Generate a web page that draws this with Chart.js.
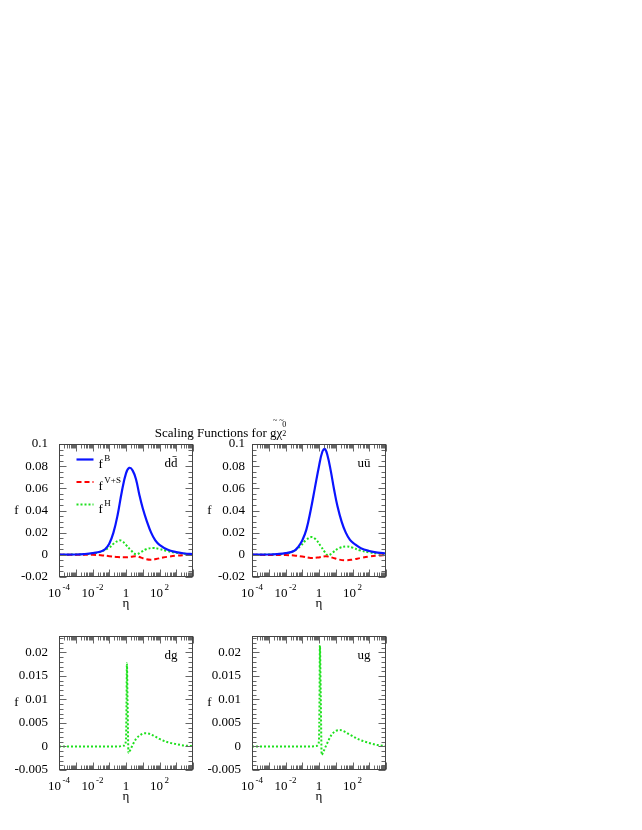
<!DOCTYPE html>
<html>
<head>
<meta charset="utf-8">
<style>
  html, body { margin: 0; padding: 0; background: #fff; }
  #wrap { position: relative; width: 642px; height: 830px; }
  #wrap canvas { position: absolute; left: 0; top: 0; }
</style>
<script src="https://cdn.jsdelivr.net/npm/chart.js@4.4.1/dist/chart.umd.min.js"></script>
</head>
<body>
<div id="wrap">
  <canvas id="pDD" width="642" height="830"></canvas>
  <canvas id="pUU" width="642" height="830"></canvas>
  <canvas id="pDG" width="642" height="830"></canvas>
  <canvas id="pUG" width="642" height="830"></canvas>
</div>
<script>
/* --- Data (x = log10 eta) --- */
const ETA_EXP_DD_B = [-4, -3, -2.5, -2, -1.5, -1.25, -1, -0.75, -0.5, -0.25, 0, 0.2, 0.4, 0.6, 0.8, 1, 1.25, 1.5, 1.75, 2, 2.5, 3, 3.5, 4];
const F_DD_B       = [0.0001, 0.0003, 0.0007, 0.0015, 0.003, 0.005, 0.010, 0.020, 0.036, 0.057, 0.0735, 0.0785, 0.076, 0.068, 0.054, 0.042, 0.030, 0.020, 0.013, 0.009, 0.0045, 0.0025, 0.0012, 0.0006];
const ETA_EXP_DD_VS = [-4, -2, -1.5, -1, -0.5, 0, 0.3, 0.6, 0.9, 1.2, 1.5, 1.8, 2.2, 2.6, 3, 3.5, 4];
const F_DD_VS       = [0, 0, -0.0003, -0.0012, -0.002, -0.0022, -0.0018, -0.0012, -0.0025, -0.004, -0.0045, -0.0038, -0.0025, -0.0015, -0.0008, -0.0003, -0.0001];
const ETA_EXP_DD_H = [-4, -3, -2, -1.5, -1, -0.7, -0.4, -0.2, 0, 0.3, 0.6, 0.9, 1.2, 1.6, 2, 2.4, 3, 3.5, 4];
const F_DD_H       = [0.0001, 0.0003, 0.001, 0.003, 0.0065, 0.0105, 0.013, 0.012, 0.009, 0.004, 0.0005, 0.0025, 0.005, 0.0062, 0.0052, 0.0036, 0.0018, 0.0009, 0.0004];

const ETA_EXP_UU_B = [-4, -3, -2.5, -2, -1.5, -1.25, -1, -0.75, -0.5, -0.25, 0, 0.2, 0.35, 0.5, 0.7, 0.9, 1.1, 1.35, 1.6, 1.85, 2.1, 2.5, 3, 3.5, 4];
const F_UU_B       = [0.0001, 0.0003, 0.0007, 0.0015, 0.0035, 0.007, 0.013, 0.023, 0.040, 0.060, 0.080, 0.093, 0.0955, 0.090, 0.076, 0.059, 0.044, 0.030, 0.020, 0.0135, 0.010, 0.006, 0.0035, 0.002, 0.0012];
const ETA_EXP_UU_VS = [-4, -2, -1.5, -1, -0.5, -0.1, 0.4, 0.8, 1.2, 1.6, 2, 2.5, 3, 3.5, 4];
const F_UU_VS       = [0, -0.0002, -0.0006, -0.0015, -0.0028, -0.0025, -0.0013, -0.0025, -0.0043, -0.005, -0.0043, -0.0028, -0.0015, -0.0007, -0.0002];
const ETA_EXP_UU_H = [-4, -3, -2, -1.5, -1.1, -0.8, -0.45, -0.2, 0.1, 0.35, 0.55, 0.8, 1.2, 1.65, 2, 2.45, 3, 3.5, 4];
const F_UU_H       = [0.0001, 0.0003, 0.001, 0.0035, 0.008, 0.013, 0.016, 0.014, 0.008, 0.0025, -0.0005, 0.002, 0.006, 0.0075, 0.0065, 0.004, 0.0022, 0.0012, 0.0007];

const ETA_EXP_DG_H = [-4, -2, -0.5, -0.1, 0, 0.03, 0.055, 0.09, 0.15, 0.25, 0.4, 0.6, 0.8, 1.1, 1.4, 1.7, 2, 2.5, 3, 3.5, 4];
const F_DG_H       = [0, 0, 0, 0.0002, 0.0015, 0.009, 0.0177, 0.010, -0.0014, -0.0008, 0.0004, 0.0016, 0.0023, 0.0028, 0.0027, 0.0022, 0.0016, 0.0009, 0.0005, 0.0002, 0.0001];

const ETA_EXP_UG_H = [-4, -2, -0.5, -0.15, -0.05, 0, 0.03, 0.055, 0.1, 0.16, 0.25, 0.45, 0.75, 1, 1.25, 1.5, 1.85, 2.45, 3.05, 3.5, 4];
const F_UG_H       = [0, 0, 0, 0.0001, 0.0004, 0.0015, 0.010, 0.0215, 0.012, -0.0018, -0.0012, 0.0004, 0.0025, 0.0033, 0.0035, 0.0032, 0.0025, 0.0014, 0.0007, 0.0003, 0.0001];

/* --- Axes --- */
const X_MIN_EXP = -4, X_MAX_EXP = 4;
const X_LABEL_EXP = [-4, -2, 0, 2];
const Y_TICKS_TOP = [-0.02, 0, 0.02, 0.04, 0.06, 0.08, 0.1];
const Y_TICKS_BOTTOM = [-0.005, 0, 0.005, 0.01, 0.015, 0.02];

/* --- Style --- */
const FONT = '"Liberation Serif", "DejaVu Serif", serif';
const C_BLUE = '#0a14ff', C_RED = '#ff0000', C_GREEN = '#1ee01e';
const FRAME = '#444';
const TICK = '#666';
const MAJOR_LEN = 7, MINOR_LEN = 4;
const Y_AXIS_W = 50;

Chart.defaults.font.family = FONT;
Chart.defaults.font.size = 13;
Chart.defaults.color = '#000';

function pts(exps, vals){ return exps.map((e, i) => ({ x: Math.pow(10, e), y: vals[i] })); }

const SERIES = {
  B:  { label: 'B',   borderColor: C_BLUE,  borderWidth: 2.2, borderDash: [] },
  VS: { label: 'V+S', borderColor: C_RED,   borderWidth: 2,   borderDash: [5, 3] },
  H:  { label: 'H',   borderColor: C_GREEN, borderWidth: 2,   borderDash: [2, 2] }
};
// smooth: spline for the broad curves, monotone for the spikes
function ds(kind, exps, vals, spike){
  return Object.assign({}, SERIES[kind], {
    data: pts(exps, vals), showLine: true, pointRadius: 0, fill: false,
    tension: spike ? 0 : 0.4,
    cubicInterpolationMode: spike ? 'monotone' : 'default'
  });
}

/* base + superscript text */
function supText(ctx, base, sup, x, baseline, align){
  ctx.font = '13px ' + FONT;
  const wb = ctx.measureText(base).width;
  ctx.font = '9px ' + FONT;
  const ws = sup ? ctx.measureText(sup).width + 1.5 : 0;
  let x0 = align === 'center' ? x - (wb + ws) / 2 : x;
  ctx.textAlign = 'left';
  ctx.textBaseline = 'alphabetic';
  ctx.font = '13px ' + FONT;
  ctx.fillText(base, x0, baseline);
  if (sup){
    ctx.font = '9px ' + FONT;
    ctx.fillText(sup, x0 + wb + 1.5, baseline - 7);
  }
}

const gnuFrame = {
  id: 'gnuFrame',
  afterDraw(chart, args, o){
    const { ctx, chartArea: a, scales: { x, y } } = chart;
    const L = Math.round(a.left) + 0.5, R = Math.round(a.right) - 0.5;
    const T = Math.round(a.top) + 0.5, B = Math.round(a.bottom) - 0.5;
    ctx.save();
    ctx.lineWidth = 1;
    ctx.setLineDash([]);

    // inward ticks, all four sides
    ctx.strokeStyle = TICK;
    ctx.beginPath();
    for (let e = X_MIN_EXP; e <= X_MAX_EXP; e++){
      for (let m = 1; m <= 9; m++){
        if (e === X_MAX_EXP && m > 1) break;
        const px = Math.round(x.getPixelForValue(m * Math.pow(10, e))) + 0.5;
        const len = m === 1 ? MAJOR_LEN : MINOR_LEN;
        ctx.moveTo(px, B); ctx.lineTo(px, B - len);
        ctx.moveTo(px, T); ctx.lineTo(px, T + len);
      }
    }
    for (let k = 0; ; k++){
      const v = y.min + k * o.yMinor;
      if (v > y.max + 1e-9) break;
      const major = o.yTicks.some(t => Math.abs(t - v) < 1e-9);
      const py = Math.round(y.getPixelForValue(v)) + 0.5;
      const len = major ? MAJOR_LEN : MINOR_LEN;
      ctx.moveTo(L, py); ctx.lineTo(L + len, py);
      ctx.moveTo(R, py); ctx.lineTo(R - len, py);
    }
    ctx.stroke();
    ctx.strokeStyle = FRAME;
    ctx.strokeRect(L, T, R - L, B - T);

    ctx.fillStyle = '#000';
    // x tick labels
    X_LABEL_EXP.forEach(e => {
      const px = x.getPixelForValue(Math.pow(10, e));
      if (e === 0) supText(ctx, '1', '', px, B + 20, 'center');
      else supText(ctx, '10', String(e), px, B + 20, 'center');
    });
    // axis titles
    ctx.font = '13px ' + FONT;
    ctx.textAlign = 'center';
    ctx.textBaseline = 'alphabetic';
    ctx.fillText('η', (L + R) / 2, B + 30);
    ctx.textBaseline = 'middle';
    ctx.fillText('f', L - 43, (T + B) / 2);

    // panel label
    ctx.textAlign = 'left';
    ctx.textBaseline = 'alphabetic';
    ctx.fillText(o.label, R - 28, T + 22);

    // legend
    if (o.legend){
      chart.data.datasets.forEach((d, i) => {
        const ly = T + 15 + i * 22.5;
        ctx.save();
        ctx.strokeStyle = d.borderColor;
        ctx.lineWidth = d.borderWidth;
        ctx.setLineDash(d.borderDash);
        ctx.beginPath();
        ctx.moveTo(L + 17, ly); ctx.lineTo(L + 34, ly);
        ctx.stroke();
        ctx.restore();
        supText(ctx, 'f', d.label, L + 39, ly + 8, 'left');
      });
    }

    // figure title
    if (o.title){
      const cx = 221, bl = 437;
      ctx.font = '13px ' + FONT;
      const main = 'Scaling Functions for ';
      const wm = ctx.measureText(main).width;
      const wg = ctx.measureText('g').width;
      const wc = ctx.measureText('χ').width;
      const x0 = cx - (wm + wg + wc + 5) / 2;
      ctx.textAlign = 'left';
      ctx.fillText(main + 'g', x0, bl);
      ctx.fillText('χ', x0 + wm + wg, bl);
      ctx.font = '8px ' + FONT;
      ctx.fillText('2', x0 + wm + wg + wc, bl - 1);
      ctx.fillText('0', x0 + wm + wg + wc, bl - 10);
      ctx.textAlign = 'center';
      ctx.fillText('~', x0 + wm + wg / 2 + 2, bl - 14);
      ctx.fillText('~', x0 + wm + wg + wc / 2 + 2, bl - 14);
    }
    ctx.restore();
  }
};

function makePanel(id, box, yMin, yMax, yTicks, yMinor, tickPad, datasets, extra){
  return new Chart(document.getElementById(id), {
    type: 'scatter',
    data: { datasets },
    options: {
      responsive: false,
      animation: false,
      devicePixelRatio: 1,
      layout: { padding: { left: box[0] - Y_AXIS_W, top: box[1], right: 642 - box[2], bottom: 830 - box[3] } },
      plugins: {
        legend: { display: false },
        tooltip: { enabled: false },
        gnuFrame: Object.assign({ yTicks, yMinor }, extra)
      },
      scales: {
        x: { type: 'logarithmic', min: Math.pow(10, X_MIN_EXP), max: Math.pow(10, X_MAX_EXP), display: false },
        y: {
          type: 'linear', min: yMin, max: yMax,
          afterFit: s => { s.width = Y_AXIS_W; },
          afterBuildTicks: s => { s.ticks = yTicks.map(v => ({ value: v })); },
          grid: { display: false, drawTicks: false },
          border: { display: false },
          ticks: { padding: tickPad, autoSkip: false, font: { size: 13 }, color: '#000',
                   callback: v => String(+v.toFixed(4)) }
        }
      }
    },
    plugins: [gnuFrame]
  });
}

makePanel('pDD', [59, 444, 193, 577], -0.02, 0.1, Y_TICKS_TOP, 0.005, 11,
  [ds('B', ETA_EXP_DD_B, F_DD_B), ds('VS', ETA_EXP_DD_VS, F_DD_VS), ds('H', ETA_EXP_DD_H, F_DD_H)],
  { label: 'dd\u0304', legend: true, title: true });
makePanel('pUU', [252, 444, 386, 577], -0.02, 0.1, Y_TICKS_TOP, 0.005, 7,
  [ds('B', ETA_EXP_UU_B, F_UU_B), ds('VS', ETA_EXP_UU_VS, F_UU_VS), ds('H', ETA_EXP_UU_H, F_UU_H)],
  { label: 'u\u016B' });
makePanel('pDG', [59, 636, 193, 770], -0.005, 0.0235, Y_TICKS_BOTTOM, 0.001, 11,
  [ds('H', ETA_EXP_DG_H, F_DG_H, true)],
  { label: 'dg' });
makePanel('pUG', [252, 636, 386, 770], -0.005, 0.0235, Y_TICKS_BOTTOM, 0.001, 11,
  [ds('H', ETA_EXP_UG_H, F_UG_H, true)],
  { label: 'ug' });
</script>
</body>
</html>
